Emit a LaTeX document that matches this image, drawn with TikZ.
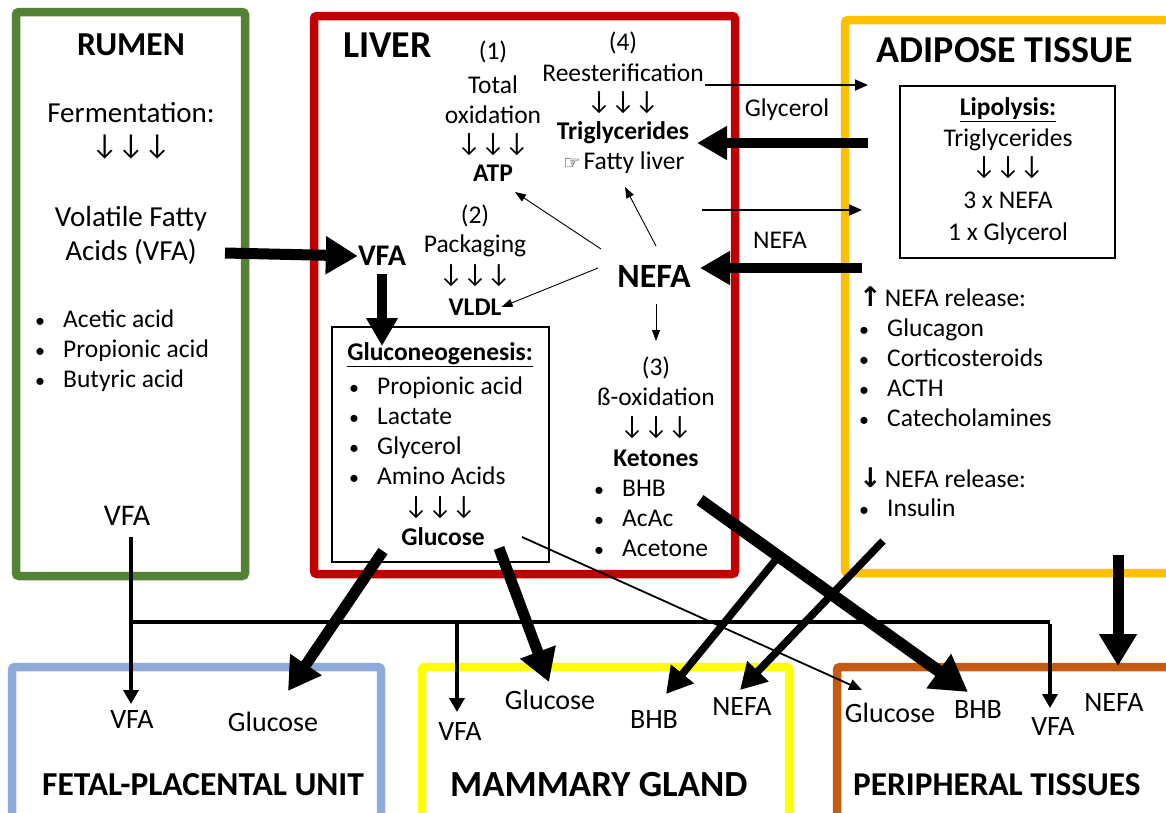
\documentclass[tikz,border=0pt]{standalone}
\usepackage{fontspec}
\setmainfont{Carlito}
\newfontfamily\symfont{DejaVu Sans}
\usetikzlibrary{arrows.meta}
\definecolor{rumengreen}{HTML}{548235}
\definecolor{liverred}{HTML}{C00000}
\definecolor{adiposeorange}{HTML}{FFC000}
\definecolor{fetalblue}{HTML}{8EAADB}
\definecolor{mammaryyellow}{HTML}{FFFF00}
\definecolor{periphbrown}{HTML}{C55A11}
\newcommand{\darr}{{\fontsize{26.5}{30}\selectfont ↓↓↓}}
\newcommand{\bigdarr}{{\fontsize{29}{30}\selectfont ↓↓↓}}
\newcommand{\bul}{\makebox[28pt][l]{\fontsize{20}{20}\selectfont •}}
\begin{document}
\begin{tikzpicture}[x=1pt,y=-1pt,
  organ/.style={line width=8.5pt, rounded corners=3pt},
  txt/.style={font=\fontsize{25.5}{30}\selectfont, inner sep=0pt, align=center},
  btxt/.style={font=\bfseries\fontsize{25.5}{30}\selectfont, inner sep=0pt, align=center},
  ltxt/.style={font=\fontsize{25.5}{30}\selectfont, inner sep=0pt, align=left, anchor=west},
  rtxt/.style={font=\fontsize{29}{34}\selectfont, inner sep=0pt, align=center},
  title/.style={font=\bfseries\fontsize{34}{40}\selectfont, inner sep=0pt},
  lbl/.style={font=\fontsize{28}{30}\selectfont, inner sep=0pt},
  thinbox/.style={draw=black, line width=1.3pt, inner sep=0pt},
  thin/.style={line width=0.9pt, -{Triangle[length=11pt,width=8pt]}},
  medthin/.style={line width=1.8pt, -{Triangle[length=13pt,width=11pt]}},
  bus/.style={line width=4pt},
  busarrow/.style={line width=4pt, -{Triangle[length=14pt,width=15pt]}},
  thick/.style={line width=11pt, -{Triangle[length=32pt,width=36pt]}},
  mid/.style={line width=7.5pt, -{Triangle[length=26pt,width=28pt]}},
]
\useasboundingbox (0,0) rectangle (1166,812);
\fill[white] (0,0) rectangle (1166,812);

% ---------------- organ frames
\draw[organ, draw=rumengreen] (16,12) rectangle (245,576);
\draw[organ, draw=liverred] (314,16) rectangle (735,574);
\draw[organ, draw=adiposeorange] (845,20) rectangle (1180,573);
\draw[organ, draw=fetalblue] (12,667) rectangle (381,830);
\draw[organ, draw=mammaryyellow] (422,667) rectangle (789,830);
\draw[organ, draw=periphbrown] (837,667) rectangle (1180,830);

% ---------------- RUMEN
\node[title, font=\bfseries\fontsize{33.5}{40}\selectfont] (rumenT) at (131,45) {RUMEN};
\node[rtxt] (ferm) at (131,113) {Fermentation:};
\node[rtxt] (fa) at (131,147) {\bigdarr};
\node[rtxt] (vfaR) at (131,235) {Volatile Fatty\\Acids (VFA)};
\node[ltxt] (rlist) at (35,351) {\bul Acetic acid\\ \bul Propionic acid\\ \bul Butyric acid};
\node[lbl, font=\fontsize{30}{30}\selectfont] (rvfa) at (127,516) {VFA};

% ---------------- LIVER
\node[title, anchor=west, font=\bfseries\fontsize{38}{40}\selectfont] (liverT) at (343,45) {LIVER};
\node[txt] (n1) at (493,52) {(1)};
\node[txt] (tox) at (493,100) {Total\\oxidation};
\node[txt] (a1) at (493,145) {\darr};
\node[btxt] (atp) at (493,173) {ATP};
\node[txt] (n4) at (623,43) {(4)};
\node[txt] (rees) at (623,73) {Reesterification};
\node[txt] (a4) at (623,103) {\darr};
\node[btxt] (tg) at (623,133) {Triglycerides};
\node[txt] (fl) at (624,163) {{\symfont\fontsize{19}{19}\selectfont ☞}\hspace{3pt}Fatty liver};
\node[txt] (n2) at (475,216) {(2)};
\node[txt] (pack) at (475,246) {Packaging};
\node[txt] (a2) at (475,276) {\darr};
\node[btxt] (vldl) at (475,307) {VLDL};
\node[btxt, font=\bfseries\fontsize{30}{30}\selectfont] (vfaL) at (382,256) {VFA};
\node[btxt, font=\bfseries\fontsize{34}{36}\selectfont] (nefa) at (654,276) {NEFA};
\node[txt] (n3) at (656,368) {(3)};
\node[txt] (box) at (656,397) {ß-oxidation};
\node[txt] (a3) at (656,428) {\darr};
\node[btxt] (ket) at (656,458) {Ketones};
\node[ltxt] (bhb) at (594,488) {\bul BHB};
\node[ltxt] (acac) at (594,518) {\bul AcAc};
\node[ltxt] (acet) at (594,548) {\bul Acetone};

% gluconeogenesis box
\node[thinbox, minimum width=217pt, minimum height=235pt] (gbox) at (440.5,444.5) {};
\node[btxt] (gT) at (440,355) {\underline{Gluconeogenesis:}};
\node[ltxt] (glist) at (349,430.5) {\bul Propionic acid\\ \bul Lactate\\ \bul Glycerol\\ \bul Amino Acids};
\node[txt] (ga) at (440,508) {\darr};
\node[btxt] (glu) at (443,537) {Glucose};

% ---------------- ADIPOSE
\node[title, font=\bfseries\fontsize{38}{40}\selectfont] (adT) at (1005,50) {ADIPOSE TISSUE};
\node[thinbox, minimum width=215pt, minimum height=172pt] (lbox) at (1007.5,172) {};
\node[btxt] (lipT) at (1008,110) {\underline{Lipolysis:}};
\node[txt] (ltg) at (1008,140) {Triglycerides};
\node[txt] (la) at (1008,168) {\darr};
\node[txt] (l3) at (1008,200) {3 x NEFA};
\node[txt] (l1) at (1008,234) {1 x Glycerol};
\node[ltxt] (up) at (859,297) {{\symfont\bfseries\fontsize{27}{27}\selectfont ↑}\hspace{3pt}NEFA release:};
\node[ltxt] (uplist) at (859,372.5) {\bul Glucagon\\ \bul Corticosteroids\\ \bul ACTH\\ \bul Catecholamines};
\node[ltxt] (dn) at (859,478) {{\symfont\bfseries\fontsize{27}{27}\selectfont ↓}\hspace{3pt}NEFA release:};
\node[ltxt] (ins) at (859,508) {\bul Insulin};

% liver <-> adipose labels
\node[txt] (glyL) at (787,110) {Glycerol};
\node[txt] (nefaL) at (780,240) {NEFA};

% ---------------- bottom organs
\node[title, anchor=west, font=\bfseries\fontsize{33.5}{40}\selectfont] (fetT) at (42,785) {FETAL-PLACENTAL UNIT};
\node[title, anchor=west, font=\bfseries\fontsize{36.8}{40}\selectfont] (mamT) at (450,785) {MAMMARY GLAND};
\node[title, anchor=west, font=\bfseries\fontsize{33.3}{40}\selectfont] (perT) at (853,785) {PERIPHERAL TISSUES};
\node[lbl] (fvfa) at (132,720) {VFA};
\node[lbl] (fglu) at (273,722) {Glucose};
\node[lbl] (mvfa) at (460,732) {VFA};
\node[lbl] (mglu) at (550,700) {Glucose};
\node[lbl] (mbhb) at (654,720) {BHB};
\node[lbl] (mnefa) at (742,707) {NEFA};
\node[lbl] (pglu) at (890,713) {Glucose};
\node[lbl] (pbhb) at (978,710) {BHB};
\node[lbl] (pvfa) at (1053,727) {VFA};
\node[lbl] (pnefa) at (1114,703) {NEFA};

% ---------------- coordinates for connector ends
\coordinate (rumOut) at (225,253);
\coordinate (reS) at (705,85);   \coordinate (reE) at (868,85);
\coordinate (glyS) at (868,143); \coordinate (glyE) at (697,143);
\coordinate (nfS) at (702,210);  \coordinate (nfE) at (862,210);
\coordinate (nbS) at (862,268);  \coordinate (nbE) at (700,268);
\coordinate (busA) at (131,537); \coordinate (busL) at (131,622);
\coordinate (busM) at (457,622); \coordinate (busR) at (1050,622);
\coordinate (fvfaT) at (131,704); \coordinate (mvfaT) at (457,712);
\coordinate (pvfaT) at (1050,708);
\coordinate (gfS) at (383,551);  \coordinate (gfT) at (288,691);
\coordinate (gmS) at (499,548);  \coordinate (gmT) at (549,682);
\coordinate (gpS) at (522,537);  \coordinate (gpT) at (862,690);
\coordinate (bhS) at (700,500);  \coordinate (bhT) at (968,692);
\coordinate (brS) at (778,557);  \coordinate (brT) at (666,694);
\coordinate (anS) at (883,541);  \coordinate (anT) at (740,690);
\coordinate (apS) at (1118,555); \coordinate (apT) at (1118,666);
\coordinate (vgS) at (382,274);  \coordinate (vgT) at (382,346);
\coordinate (natp) at (601,249); \coordinate (atpT) at (515,192);
\coordinate (ntg) at (656,246);  \coordinate (tgT) at (625,187);
\coordinate (nvl) at (598,268);  \coordinate (n3s) at (656,304);
\coordinate (n3t) at (656,341);

% ---------------- connectors
\draw[thick] (rumOut) -- (vfaL.west);
\draw[line width=10pt, -{Triangle[length=28pt,width=30pt]}] (vgS) -- (vgT);
\draw[thin] (natp) -- (atpT);
\draw[thin] (ntg) -- (tgT);
\draw[thin] (nvl) -- (vldl.east);
\draw[thin] (n3s) -- (n3t);

\draw[medthin] (reS) -- (reE);
\draw[line width=10pt, -{Triangle[length=30pt,width=32pt]}] (glyS) -- (glyE);
\draw[medthin] (nfS) -- (nfE);
\draw[line width=10pt, -{Triangle[length=30pt,width=32pt]}] (nbS) -- (nbE);

\draw[bus] (busL) -- (busR);
\draw[busarrow] (busA) -- (fvfaT);
\draw[busarrow] (busM) -- (mvfaT);
\draw[busarrow] ([yshift=-2pt]busR) -- (pvfaT);

\draw[thick] (gfS) -- (gfT);
\draw[thick] (gmS) -- (gmT);
\draw[medthin] (gpS) -- (gpT);
\draw[line width=12pt, -{Triangle[length=36pt,width=40pt]}] (bhS) -- (bhT);
\draw[mid] (brS) -- (brT);
\draw[mid] (anS) -- (anT);
\draw[thick] (apS) -- (apT);
\end{tikzpicture}
\end{document}
